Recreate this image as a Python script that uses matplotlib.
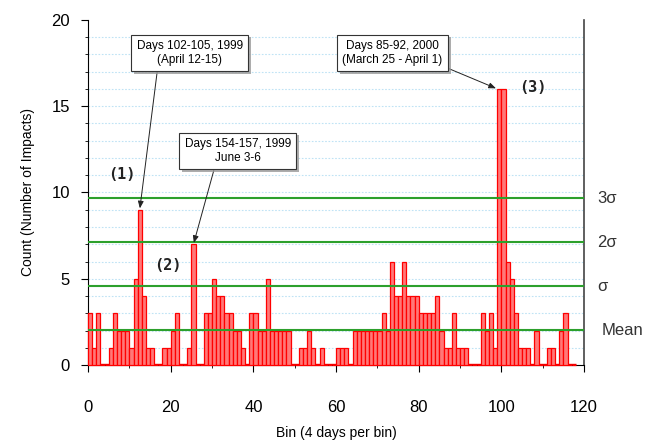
import matplotlib
matplotlib.use("Agg")
import matplotlib.pyplot as plt
import matplotlib.patheffects as pe
import numpy as np

# counts per 4-day bin
counts = [
    3, 1, 3, 0, 0, 1, 3, 2, 2, 2,
    1, 5, 9, 4, 1, 1, 0, 0, 1, 1,
    2, 3, 0, 0, 1, 7, 0, 0, 3, 3,
    5, 4, 4, 3, 3, 2, 2, 1, 0, 3,
    3, 2, 2, 5, 2, 2, 2, 2, 2, 0,
    0, 1, 1, 2, 1, 0, 1, 0, 0, 0,
    1, 1, 1, 0, 2, 2, 2, 2, 2, 2,
    2, 3, 2, 6, 4, 4, 6, 4, 4, 4,
    3, 3, 3, 3, 4, 2, 1, 1, 3, 1,
    1, 1, 0, 0, 0, 3, 2, 3, 1, 16,
    16, 6, 5, 3, 1, 1, 1, 0, 2, 0,
    0, 1, 1, 0, 2, 3, 0, 0,
]
bins = np.arange(len(counts))

mean_level = 2.02
sigma = 2.55
level_names = ["Mean", "σ", "2σ", "3σ"]
level_values = [mean_level, mean_level + sigma, mean_level + 2 * sigma, mean_level + 3 * sigma]

peak_bins = [12, 25, 99]
peak_tags = ["(1)", "(2)", "(3)"]
peak_notes = [
    "Days 102-105, 1999\n(April 12-15)",
    "Days 154-157, 1999\nJune 3-6",
    "Days 85-92, 2000\n(March 25 - April 1)",
]

plt.rcParams["font.family"] = ["Liberation Sans", "DejaVu Sans"]

fig = plt.figure(figsize=(6.57, 4.40), dpi=100)
ax = fig.add_axes([0.134, 0.170, 0.755, 0.785])

# light blue dotted grid at every count
for y in range(1, 20):
    ax.axhline(y, color="#bfe3f5", lw=0.8, ls=(0, (1.5, 1.5)), zorder=0)

ax.bar(bins, counts, width=1.0, align="edge", color="#ff7878",
       edgecolor="#ff0000", linewidth=0.9, zorder=2.6, clip_on=False)
# empty bins show as a red line on the baseline
ax.hlines(0.08, bins[0], bins[-1] + 1, color="#ff0000", lw=1.0, zorder=2.4)

for name, val in zip(level_names, level_values):
    ax.axhline(val, color="#2ca02c", lw=1.5, zorder=3)
    xoff = 0.036 if name == "Mean" else 0.027
    ax.text(1 + xoff, val, name, transform=ax.get_yaxis_transform(),
            ha="left", va="center", fontsize=12, color="#333333")

ax.set_xlim(0, 120)
ax.set_ylim(0, 20)
ax.set_xticks(range(0, 121, 20))
ax.set_xticks(range(0, 121, 10), minor=True)
ax.set_yticks(range(0, 21, 5))
ax.set_yticks(range(0, 21, 1), minor=True)
ax.tick_params(axis="both", which="major", labelsize=12, direction="out", length=5)
ax.tick_params(axis="both", which="minor", direction="out", length=2.5)
ax.tick_params(axis="x", which="major", pad=20)
ax.tick_params(axis="y", which="major", pad=8)
ax.spines["top"].set_visible(False)
ax.spines["right"].set_color("#444444")
ax.spines["right"].set_linewidth(1.2)

ax.set_xlabel("Bin (4 days per bin)", fontsize=10, labelpad=8)
ax.set_ylabel("Count (Number of Impacts)", fontsize=10, labelpad=12)

# annotation boxes: (text position in axes fraction, arrow start on box)
note_pos = [(0.205, 0.904), (0.302, 0.620), (0.614, 0.904)]
note_relpos = [(0.2, 0.0), (0.29, 0.0), (1.0, 0.0)]
tip_offset = [0.5, 0.5, 0.0]
for b, note, pos, rp, off in zip(peak_bins, peak_notes, note_pos, note_relpos, tip_offset):
    ann = ax.annotate(
        note, xy=(b + off, counts[b]), xycoords="data",
        xytext=pos, textcoords="axes fraction",
        ha="center", va="center", fontsize=8.5, zorder=5, linespacing=1.25,
        bbox=dict(boxstyle="square,pad=0.45", fc="white", ec="#333333", lw=0.8),
        arrowprops=dict(arrowstyle="-|>,head_length=0.5,head_width=0.2",
                        color="#222222", lw=0.7, relpos=rp, shrinkA=0, shrinkB=1),
    )
    ann.get_bbox_patch().set_path_effects(
        [pe.SimplePatchShadow(offset=(2, -2), shadow_rgbFace="#999999", alpha=0.8), pe.Normal()])

tag_pos = [(0.068, 0.551), (0.161, 0.290), (0.897, 0.803)]
for tag, pos in zip(peak_tags, tag_pos):
    ax.text(pos[0], pos[1], tag, transform=ax.transAxes, ha="center", va="center",
            fontsize=11, fontweight="bold", family="DejaVu Sans Mono", color="#222222")

fig.savefig("out.png", dpi=100)
